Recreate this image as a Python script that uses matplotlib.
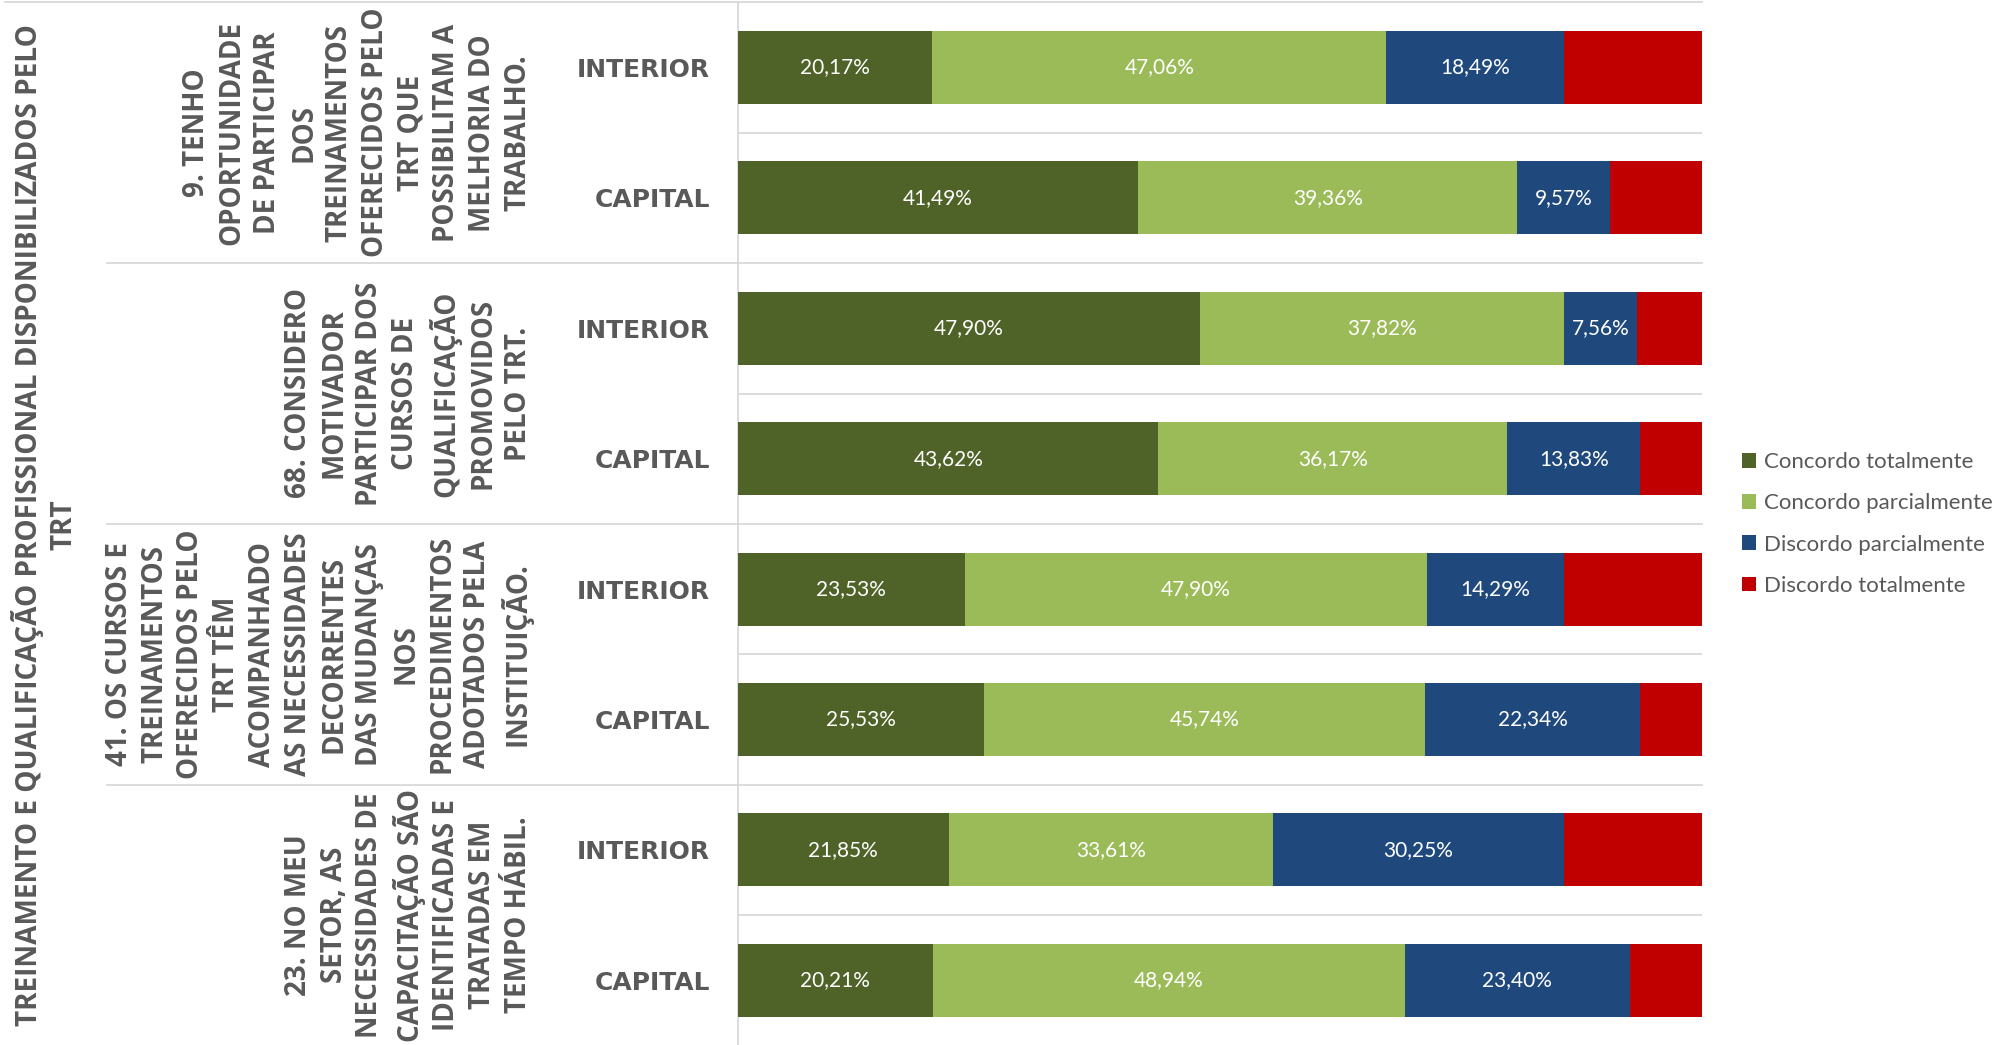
import matplotlib
matplotlib.use("Agg")
import matplotlib.pyplot as plt
import matplotlib.transforms as mtransforms
from matplotlib.patches import Patch

# Perguntas (blocos de duas linhas: interior / capital)
perguntas = [
    "9. TENHO\nOPORTUNIDADE\nDE PARTICIPAR\nDOS\nTREINAMENTOS\nOFERECIDOS PELO\nTRT QUE\nPOSSIBILITAM A\nMELHORIA DO\nTRABALHO.",
    "68. CONSIDERO\nMOTIVADOR\nPARTICIPAR DOS\nCURSOS DE\nQUALIFICAÇÃO\nPROMOVIDOS\nPELO TRT.",
    "41. OS CURSOS E\nTREINAMENTOS\nOFERECIDOS PELO\nTRT TÊM\nACOMPANHADO\nAS NECESSIDADES\nDECORRENTES\nDAS MUDANÇAS\nNOS\nPROCEDIMENTOS\nADOTADOS PELA\nINSTITUIÇÃO.",
    "23. NO MEU\nSETOR, AS\nNECESSIDADES DE\nCAPACITAÇÃO SÃO\nIDENTIFICADAS E\nTRATADAS EM\nTEMPO HÁBIL.",
]
locais = ["INTERIOR", "CAPITAL"] * 4

series = ["Concordo totalmente", "Concordo parcialmente",
          "Discordo parcialmente", "Discordo totalmente"]
concordo_total = [20.17, 41.49, 47.90, 43.62, 23.53, 25.53, 21.85, 20.21]
concordo_parcial = [47.06, 39.36, 37.82, 36.17, 47.90, 45.74, 33.61, 48.94]
discordo_parcial = [18.49, 9.57, 7.56, 13.83, 14.29, 22.34, 30.25, 23.40]
discordo_total = [14.28, 9.58, 6.72, 6.38, 14.28, 6.39, 14.29, 7.45]

cores = ["#4F6228", "#9BBB59", "#1F497D", "#C00000"]
CINZA = "#595959"
GRADE = "#D9D9D9"

W, H = 2008, 1045
fig = plt.figure(figsize=(W / 100, H / 100), dpi=100)
fig.patch.set_facecolor("white")
ax = fig.add_axes([738 / W, -0.5 / H, 964 / W, 1043.2 / H])

y = list(range(len(locais)))
left = [0.0] * len(y)
for nome, vals, cor, rotular in zip(series,
                                    [concordo_total, concordo_parcial, discordo_parcial, discordo_total],
                                    cores, [True, True, True, False]):
    ax.barh(y, vals, left=left, height=0.56, color=cor, label=nome, zorder=3)
    if rotular:
        for yi, l0, v in zip(y, left, vals):
            ax.text(l0 + v / 2, yi, f"{v:.2f}%".replace(".", ","), ha="center", va="center",
                    color="white", fontsize=15, family=["Lato", "DejaVu Sans"], zorder=4)
    left = [a + b for a, b in zip(left, vals)]

ax.set_xlim(0, 100)
ax.set_ylim(7.5, -0.5)
ax.set_xticks([])
ax.set_yticks(y)
ax.set_yticklabels(locais, fontsize=18, fontweight="bold", color=CINZA,
                   family=["DejaVu Sans"])
ax.tick_params(axis="y", length=0, pad=20)
for lado in ["top", "right", "bottom"]:
    ax.spines[lado].set_visible(False)
ax.spines["left"].set_color(GRADE)
ax.spines["left"].set_linewidth(1.3)

# linhas separadoras
for yy in [0.5, 2.5, 4.5, 6.5]:
    ax.axhline(yy, color=GRADE, lw=1.3, zorder=1)
mix = mtransforms.blended_transform_factory(fig.transFigure, ax.transData)
ax.plot([5 / W, 1702 / W], [-0.5, -0.5], color=GRADE, lw=1.3, transform=mix, clip_on=False)
for yy in [1.5, 3.5, 5.5]:
    ax.plot([107 / W, 1702 / W], [yy, yy], color=GRADE, lw=1.3, transform=mix, clip_on=False)

# rótulos das perguntas
for i, txt in enumerate(perguntas):
    ax.text(533 / W, 2 * i + 0.5, txt, transform=mix, rotation=90, ha="right", va="center",
            multialignment="center", fontsize=20, fontweight="bold", color=CINZA,
            linespacing=1.31, family=["Open Sans", "DejaVu Sans"])

# título vertical
fig.text(45 / W, 0.4976, "TREINAMENTO E QUALIFICAÇÃO PROFISSIONAL DISPONIBILIZADOS PELO\nTRT",
         rotation=90, ha="center", va="center", multialignment="center", fontsize=20.2,
         fontweight="bold", color=CINZA, linespacing=1.25, family=["Open Sans", "DejaVu Sans"])

handles = [Patch(facecolor=c) for c in cores]
fig.legend(handles, series, loc="center left", bbox_to_anchor=(1742 / W, 0.4986),
           frameon=False, handlelength=0.63, handleheight=0.63,
           handletextpad=0.35, labelspacing=0.95, borderpad=0, borderaxespad=0,
           labelcolor=CINZA, prop={"family": ["Lato", "DejaVu Sans"], "size": 16})

fig.savefig("out.png", dpi=100, facecolor="white")
